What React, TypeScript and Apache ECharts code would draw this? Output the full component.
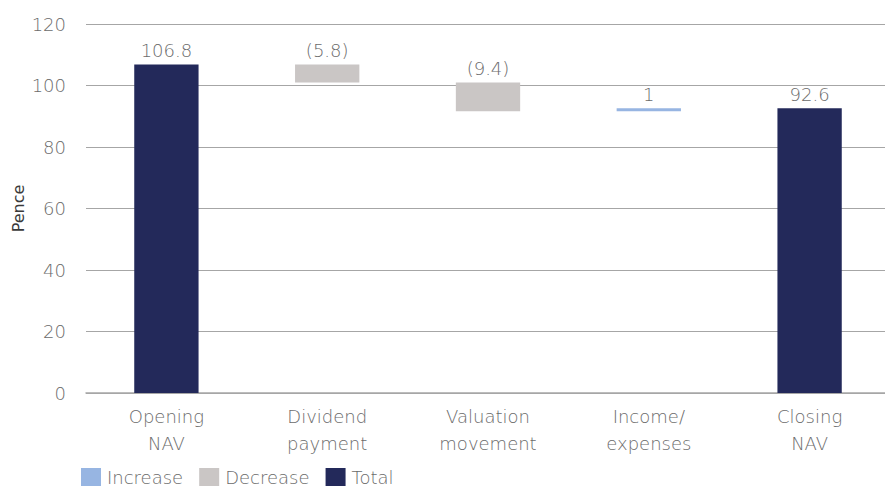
import React, { useEffect, useRef } from "react";
import * as echarts from "echarts";

const categories = ["Opening\nNAV", "Dividend\npayment", "Valuation\nmovement", "Income/\nexpenses", "Closing\nNAV"];
const openingNav = 106.8;
const movements = [-5.8, -9.4, 1];
const closingNav = 92.6;
const yTicks = [0, 20, 40, 60, 80, 100, 120];

const FONT = "DejaVu Sans";
const WEIGHT = 200;
const FS = 18;
const TXT = "#6b6b6b";

export default function App() {
  const ref = useRef<HTMLDivElement>(null);
  useEffect(() => {
    if (!ref.current) return;
    const chart = echarts.init(ref.current, null, { renderer: "svg" });
    const n = categories.length;
    const base: (number | string)[] = new Array(n).fill("-");
    const inc: (number | string)[] = new Array(n).fill("-");
    const dec: (number | string)[] = new Array(n).fill("-");
    const tot: (number | string)[] = new Array(n).fill("-");
    tot[0] = openingNav;
    tot[n - 1] = closingNav;
    let level = openingNav;
    movements.forEach((m, i) => {
      const idx = i + 1;
      if (m < 0) {
        base[idx] = +(level + m).toFixed(2);
        dec[idx] = -m;
      } else {
        base[idx] = +level.toFixed(2);
        inc[idx] = m;
      }
      level = +(level + m).toFixed(2);
    });
    const labelStyle = {
      show: true,
      position: "top" as const,
      distance: 5,
      color: TXT,
      fontFamily: FONT,
      fontWeight: WEIGHT as any,
      fontSize: FS,
    };
    chart.setOption({
      animation: false,
      grid: { left: 86, top: 24, width: 804, bottom: 93, containLabel: false, outerBoundsMode: "none" },
      legend: {
        left: 76,
        top: 463,
        itemWidth: 20,
        itemHeight: 18,
        itemGap: 16,
        icon: "rect",
        data: ["Increase", "Decrease", "Total"],
        textStyle: { color: TXT, fontFamily: FONT, fontWeight: WEIGHT, fontSize: FS, padding: [0, 0, 0, 1] },
      },
      xAxis: {
        type: "category",
        data: categories,
        axisLine: { lineStyle: { color: "#a6a6a6", width: 1.5 } },
        axisTick: { show: false },
        axisLabel: {
          color: TXT,
          fontFamily: FONT,
          fontWeight: WEIGHT,
          fontSize: FS,
          lineHeight: 27,
          margin: 10,
          interval: 0,
        },
      },
      yAxis: {
        type: "value",
        min: yTicks[0],
        max: yTicks[yTicks.length - 1],
        interval: 20,
        name: "Pence",
        nameLocation: "middle",
        nameGap: 60,
        nameMoveOverlap: false,
        nameTextStyle: { color: "#3a3a3a", fontFamily: FONT, fontWeight: 400, fontSize: 16 },
        axisLine: { show: false },
        axisTick: { show: false },
        splitLine: { lineStyle: { color: "#a6a6a6", width: 1 } },
        axisLabel: { color: TXT, fontFamily: FONT, fontWeight: WEIGHT, fontSize: FS, margin: 20 },
      },
      series: [
        {
          name: "base",
          type: "bar",
          stack: "w",
          barWidth: "40%",
          itemStyle: { color: "transparent" },
          emphasis: { disabled: true },
          data: base,
        },
        {
          name: "Increase",
          type: "bar",
          stack: "w",
          itemStyle: { color: "#97b5e2" },
          label: { ...labelStyle, formatter: (p: any) => `${p.value}` },
          data: inc,
        },
        {
          name: "Decrease",
          type: "bar",
          stack: "w",
          itemStyle: { color: "#cac6c5" },
          label: { ...labelStyle, formatter: (p: any) => `(${p.value})` },
          data: dec,
        },
        {
          name: "Total",
          type: "bar",
          stack: "w",
          itemStyle: { color: "#23295a" },
          label: { ...labelStyle, formatter: (p: any) => `${p.value}` },
          data: tot,
        },
      ],
    });
    return () => chart.dispose();
  }, []);
  return (
    <div
      ref={ref}
      style={{ position: "fixed", left: 0, top: 0, width: 885, height: 486, background: "#fff" }}
    />
  );
}
